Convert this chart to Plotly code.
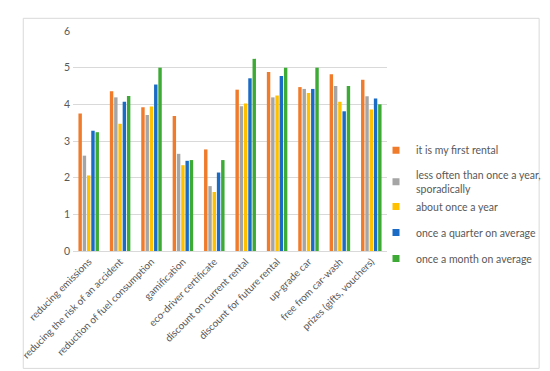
import plotly.graph_objects as go

categories = ["reducing emissions", "reducing the risk of an accident", "reduction of fuel consumption",
              "gamification", "eco-driver certificate", "discount on current rental",
              "discount for future rental", "up-grade car", "free from car-wash", "prizes (gifts, vouchers)"]

first_rental = [3.75, 4.36, 3.92, 3.68, 2.77, 4.40, 4.88, 4.47, 4.82, 4.67]
less_often = [2.60, 4.19, 3.71, 2.65, 1.77, 3.95, 4.19, 4.42, 4.50, 4.22]
once_year = [2.06, 3.47, 3.94, 2.34, 1.61, 4.02, 4.24, 4.31, 4.07, 3.86]
once_quarter = [3.28, 4.07, 4.54, 2.46, 2.14, 4.71, 4.77, 4.42, 3.81, 4.16]
once_month = [3.24, 4.23, 5.00, 2.48, 2.48, 5.24, 5.00, 5.00, 4.50, 4.00]

series = [
    ("it is my first rental", first_rental, "#F07B2A", "a"),
    ("less often than once a year,<br>sporadically", less_often, "#A5A5A5", "b"),
    ("about once a year", once_year, "#FFC000", "b"),
    ("once a quarter on average", once_quarter, "#1A6BC6", "c"),
    ("once a month on average", once_month, "#3DAA35", "d"),
]

FONT = "Lato"
fig = go.Figure()
for i, (name, vals, col, grp) in enumerate(series):
    fig.add_trace(go.Bar(x=categories, y=vals, name=name, marker_color=col,
                         marker_line_width=0, showlegend=False))
for i, (name, vals, col, grp) in enumerate(series):
    # small square legend marker
    fig.add_trace(go.Scatter(x=[None], y=[None], mode="markers", name=name,
                             marker=dict(symbol="square", size=7, color=col),
                             legendgroup=grp, showlegend=True))

fig.update_layout(
    width=550, height=371,
    margin=dict(l=61, r=167, t=23, b=128),
    paper_bgcolor="white", plot_bgcolor="white",
    barmode="group", bargap=0.32, bargroupgap=0.2,
    font=dict(family=FONT, size=10, color="#595959"),
    legend=dict(x=0.965, xanchor="left", y=0.524, yanchor="top",
                font=dict(family=FONT, size=10.5, color="#595959"),
                tracegroupgap=7, itemwidth=30, bgcolor="rgba(0,0,0,0)"),
    showlegend=True,
)
fig.update_yaxes(range=[0, 6], dtick=1, showgrid=True, gridcolor="#D9D9D9", gridwidth=1,
                 zeroline=False, showline=False, ticks="", tickfont=dict(size=10.5, color="#595959"),
                 ticklen=0, ticklabelstandoff=2)
fig.update_xaxes(tickangle=-45, showline=True, linecolor="#D9D9D9", linewidth=1,
                 tickfont=dict(size=10, color="#595959"), ticks="")
fig.add_shape(type="rect", xref="paper", yref="paper",
              x0=-0.1584, x1=1.4845, y0=-0.5336, y1=1.0576,
              line=dict(color="#D9D9D9", width=1), fillcolor="rgba(0,0,0,0)", layer="below")
fig.write_html("out.html")
